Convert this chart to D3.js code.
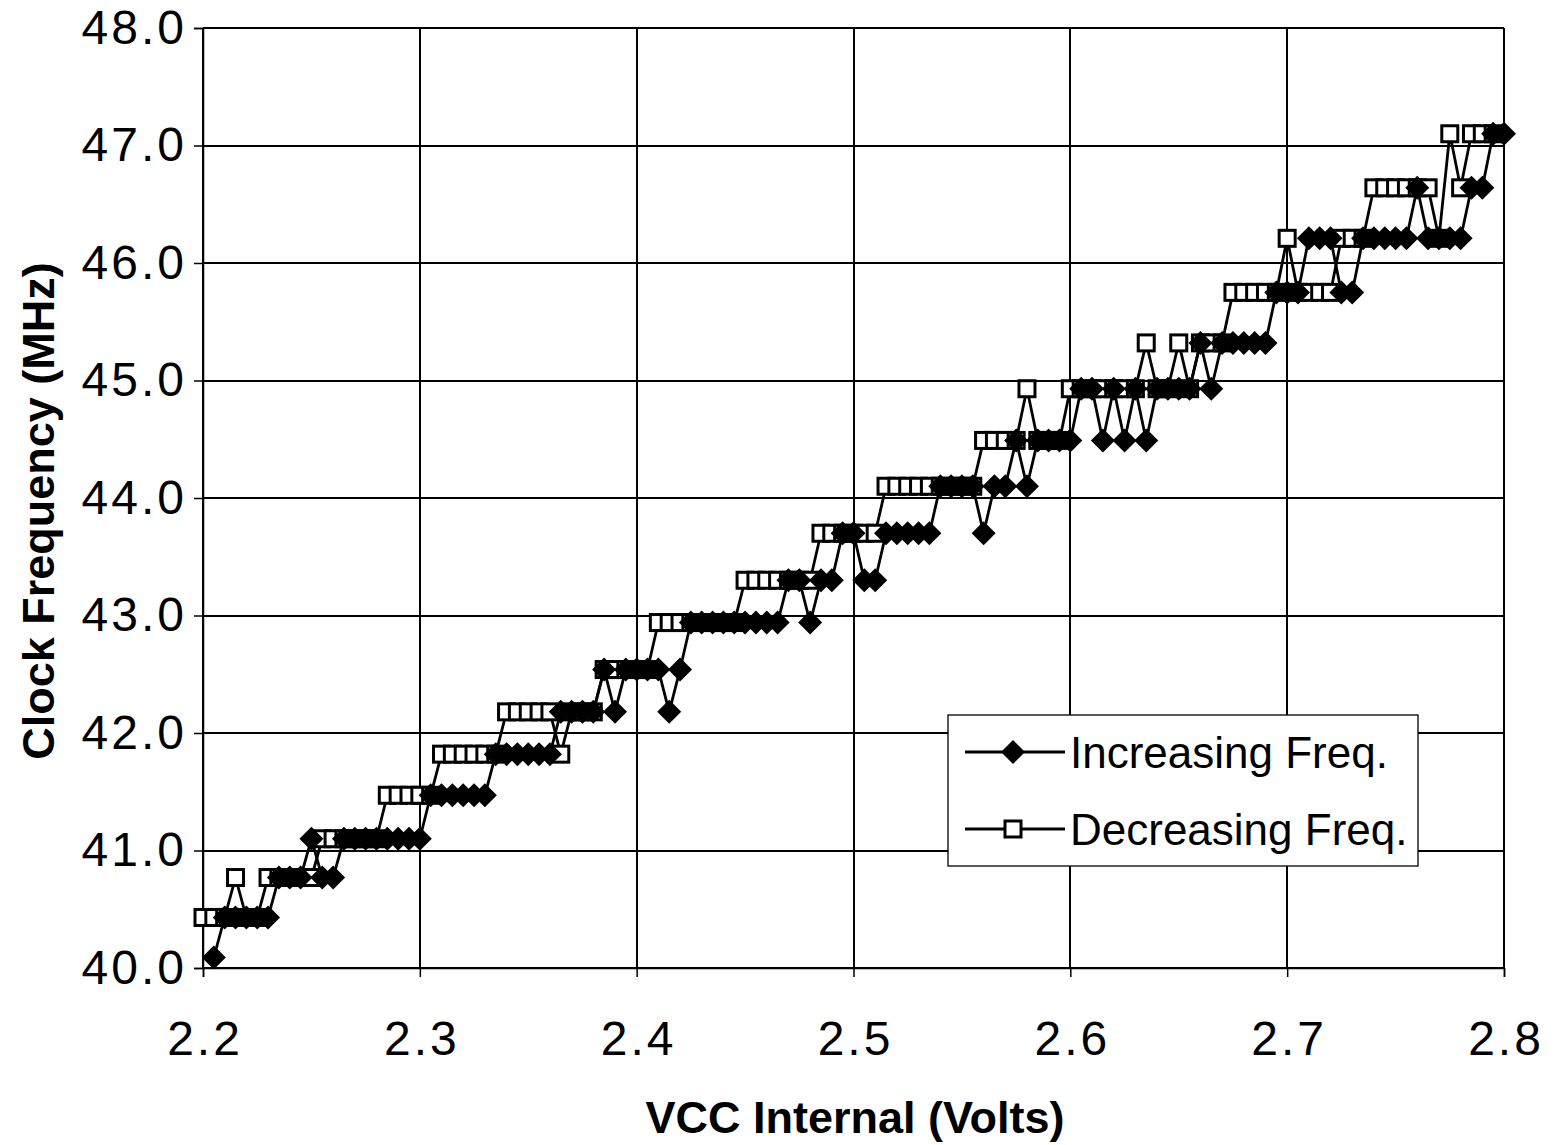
<!DOCTYPE html>
<html>
<head>
<meta charset="utf-8">
<script src="https://cdn.jsdelivr.net/npm/d3@7"></script>
<style>
  html, body { margin: 0; padding: 0; background: #fff; }
  svg { display: block; }
  text { font-family: "Liberation Sans", Arial, sans-serif; fill: #000; }
</style>
</head>
<body>
<svg id="chart" width="1555" height="1145"></svg>
<script>
// ---- Data ----
const voltage = [
  2.200, 2.205, 2.210, 2.215, 2.220, 2.225, 2.230, 2.235, 2.240, 2.245,
  2.250, 2.255, 2.260, 2.265, 2.270, 2.275, 2.280, 2.285, 2.290, 2.295,
  2.300, 2.305, 2.310, 2.315, 2.320, 2.325, 2.330, 2.335, 2.340, 2.345,
  2.350, 2.355, 2.360, 2.365, 2.370, 2.375, 2.380, 2.385, 2.390, 2.395,
  2.400, 2.405, 2.410, 2.415, 2.420, 2.425, 2.430, 2.435, 2.440, 2.445,
  2.450, 2.455, 2.460, 2.465, 2.470, 2.475, 2.480, 2.485, 2.490, 2.495,
  2.500, 2.505, 2.510, 2.515, 2.520, 2.525, 2.530, 2.535, 2.540, 2.545,
  2.550, 2.555, 2.560, 2.565, 2.570, 2.575, 2.580, 2.585, 2.590, 2.595,
  2.600, 2.605, 2.610, 2.615, 2.620, 2.625, 2.630, 2.635, 2.640, 2.645,
  2.650, 2.655, 2.660, 2.665, 2.670, 2.675, 2.680, 2.685, 2.690, 2.695,
  2.700, 2.705, 2.710, 2.715, 2.720, 2.725, 2.730, 2.735, 2.740, 2.745,
  2.750, 2.755, 2.760, 2.765, 2.770, 2.775, 2.780, 2.785, 2.790, 2.795,
  2.800
];

const increasingFreq = [
  null, 40.09, 40.43, 40.43, 40.43, 40.43, 40.43, 40.77, 40.77, 40.77,
  41.10, 40.77, 40.77, 41.10, 41.10, 41.10, 41.10, 41.10, 41.10, 41.10,
  41.10, 41.47, 41.47, 41.47, 41.47, 41.47, 41.47, 41.82, 41.82, 41.82,
  41.82, 41.82, 41.82, 42.18, 42.18, 42.18, 42.18, 42.54, 42.18, 42.54,
  42.54, 42.54, 42.54, 42.18, 42.54, 42.94, 42.94, 42.94, 42.94, 42.94,
  42.94, 42.94, 42.94, 42.94, 43.30, 43.30, 42.94, 43.30, 43.30, 43.70,
  43.70, 43.30, 43.30, 43.70, 43.70, 43.70, 43.70, 43.70, 44.10, 44.10,
  44.10, 44.10, 43.70, 44.10, 44.10, 44.49, 44.10, 44.49, 44.49, 44.49,
  44.49, 44.93, 44.93, 44.49, 44.93, 44.49, 44.93, 44.49, 44.93, 44.93,
  44.93, 44.93, 45.32, 44.93, 45.32, 45.32, 45.32, 45.32, 45.32, 45.75,
  45.75, 45.75, 46.21, 46.21, 46.21, 45.75, 45.75, 46.21, 46.21, 46.21,
  46.21, 46.21, 46.64, 46.21, 46.21, 46.21, 46.21, 46.64, 46.64, 47.10,
  47.10
];

const decreasingFreq = [
  40.43, 40.43, 40.43, 40.77, 40.43, 40.43, 40.77, 40.77, 40.77, 40.77,
  40.77, 41.10, 41.10, 41.10, 41.10, 41.10, 41.10, 41.47, 41.47, 41.47,
  41.47, 41.47, 41.82, 41.82, 41.82, 41.82, 41.82, 41.82, 42.18, 42.18,
  42.18, 42.18, 42.18, 41.82, 42.18, 42.18, 42.18, 42.54, 42.54, 42.54,
  42.54, 42.54, 42.94, 42.94, 42.94, 42.94, 42.94, 42.94, 42.94, 42.94,
  43.30, 43.30, 43.30, 43.30, 43.30, 43.30, 43.30, 43.70, 43.70, 43.70,
  43.70, 43.70, 43.70, 44.10, 44.10, 44.10, 44.10, 44.10, 44.10, 44.10,
  44.10, 44.10, 44.49, 44.49, 44.49, 44.49, 44.93, 44.49, 44.49, 44.49,
  44.93, 44.93, 44.93, 44.93, 44.93, 44.93, 44.93, 45.32, 44.93, 44.93,
  45.32, 44.93, 45.32, 45.32, 45.32, 45.75, 45.75, 45.75, 45.75, 45.75,
  46.21, 45.75, 45.75, 45.75, 45.75, 46.21, 46.21, 46.21, 46.64, 46.64,
  46.64, 46.64, 46.64, 46.64, 46.21, 47.10, 46.64, 47.10, 47.10, 47.10,
  null
];

const yTicks = [40, 41, 42, 43, 44, 45, 46, 47, 48];
const xTicks = [2.2, 2.3, 2.4, 2.5, 2.6, 2.7, 2.8];
const seriesNames = ["Increasing Freq.", "Decreasing Freq."];
const xTitle = "VCC Internal (Volts)";
const yTitle = "Clock Frequency (MHz)";

(function () {
  // ---- Layout ----
  const mLeft = 203, mRight = 1504, mTop = 28, mBottom = 968;
  const svg = d3.select("#chart");
  const x = d3.scaleLinear().domain([2.2, 2.8]).range([mLeft, mRight]);
  const y = d3.scaleLinear().domain([40, 48]).range([mBottom, mTop]);

  // Gridlines
  const grid = svg.append("g").attr("stroke", "#000").attr("stroke-width", 1.3).attr("shape-rendering", "crispEdges");
  grid.selectAll("line.h").data(yTicks).join("line").attr("class", "h")
    .attr("x1", mLeft).attr("x2", mRight)
    .attr("y1", d => Math.round(y(d))).attr("y2", d => Math.round(y(d)));
  grid.selectAll("line.v").data(xTicks).join("line").attr("class", "v")
    .attr("y1", mTop).attr("y2", mBottom)
    .attr("x1", d => Math.round(x(d))).attr("x2", d => Math.round(x(d)));

  // Axes
  const fmt = d3.format(".1f");
  const yAxis = svg.append("g").attr("transform", `translate(${mLeft},0)`)
    .call(d3.axisLeft(y).tickValues(yTicks).tickFormat(fmt).tickSize(9).tickPadding(7));
  const xAxis = svg.append("g").attr("transform", `translate(0,${mBottom})`)
    .call(d3.axisBottom(x).tickValues(xTicks).tickFormat(fmt).tickSize(9).tickPadding(44));
  [yAxis, xAxis].forEach(a => {
    a.select(".domain").attr("stroke", "#000").attr("stroke-width", 1.5);
    a.selectAll(".tick line").attr("stroke", "#000").attr("stroke-width", 1.5);
    a.selectAll(".tick text").attr("font-size", 48).attr("letter-spacing", 3)
      .attr("font-family", "'Liberation Sans', Arial, sans-serif").attr("fill", "#000");
  });
  xAxis.selectAll(".tick text").attr("dx", 1.5);

  // Titles
  svg.append("text")
    .attr("x", 855).attr("y", 1117)
    .attr("text-anchor", "middle").attr("dominant-baseline", "central")
    .attr("font-size", 45).attr("font-weight", "bold")
    .text(xTitle);
  svg.append("text")
    .attr("transform", "translate(38,511) rotate(-90)")
    .attr("text-anchor", "middle").attr("dominant-baseline", "central")
    .attr("font-size", 45).attr("font-weight", "bold")
    .text(yTitle);

  // Series
  const line = d3.line()
    .defined(d => d[1] != null)
    .x(d => x(d[0])).y(d => y(d[1]));

  const incPts = voltage.map((v, i) => [v, increasingFreq[i]]);
  const decPts = voltage.map((v, i) => [v, decreasingFreq[i]]);

  const diamond = (cx, cy, r) => `M${cx},${cy - r}L${cx + r},${cy}L${cx},${cy + r}L${cx - r},${cy}Z`;

  // Decreasing series (squares) drawn first
  svg.append("path").datum(decPts).attr("d", line)
    .attr("fill", "none").attr("stroke", "#000").attr("stroke-width", 2.8).attr("stroke-linejoin", "round");
  svg.append("g").selectAll("rect").data(decPts.filter(d => d[1] != null)).join("rect")
    .attr("x", d => x(d[0]) - 8).attr("y", d => y(d[1]) - 8)
    .attr("width", 16).attr("height", 16)
    .attr("fill", "#fff").attr("stroke", "#000").attr("stroke-width", 3);

  // Increasing series (diamonds)
  svg.append("path").datum(incPts).attr("d", line)
    .attr("fill", "none").attr("stroke", "#000").attr("stroke-width", 2.8).attr("stroke-linejoin", "round");
  svg.append("g").selectAll("path").data(incPts.filter(d => d[1] != null)).join("path")
    .attr("d", d => diamond(x(d[0]), y(d[1]), 12))
    .attr("fill", "#000");

  // Legend
  const lg = svg.append("g");
  lg.append("rect").attr("x", 948).attr("y", 715).attr("width", 470).attr("height", 151)
    .attr("fill", "#fff").attr("stroke", "#000").attr("stroke-width", 1.3);
  const rows = [752, 829];
  rows.forEach((ry, k) => {
    lg.append("line").attr("x1", 965).attr("x2", 1065).attr("y1", ry).attr("y2", ry)
      .attr("stroke", "#000").attr("stroke-width", 2.8);
    if (k === 0) {
      lg.append("path").attr("d", diamond(1013, ry, 12)).attr("fill", "#000");
    } else {
      lg.append("rect").attr("x", 1005).attr("y", ry - 8).attr("width", 16).attr("height", 16)
        .attr("fill", "#fff").attr("stroke", "#000").attr("stroke-width", 3);
    }
    lg.append("text").attr("x", 1070).attr("y", ry)
      .attr("dominant-baseline", "central").attr("font-size", 44)
      .text(seriesNames[k]);
  });
})();
</script>
</body>
</html>
